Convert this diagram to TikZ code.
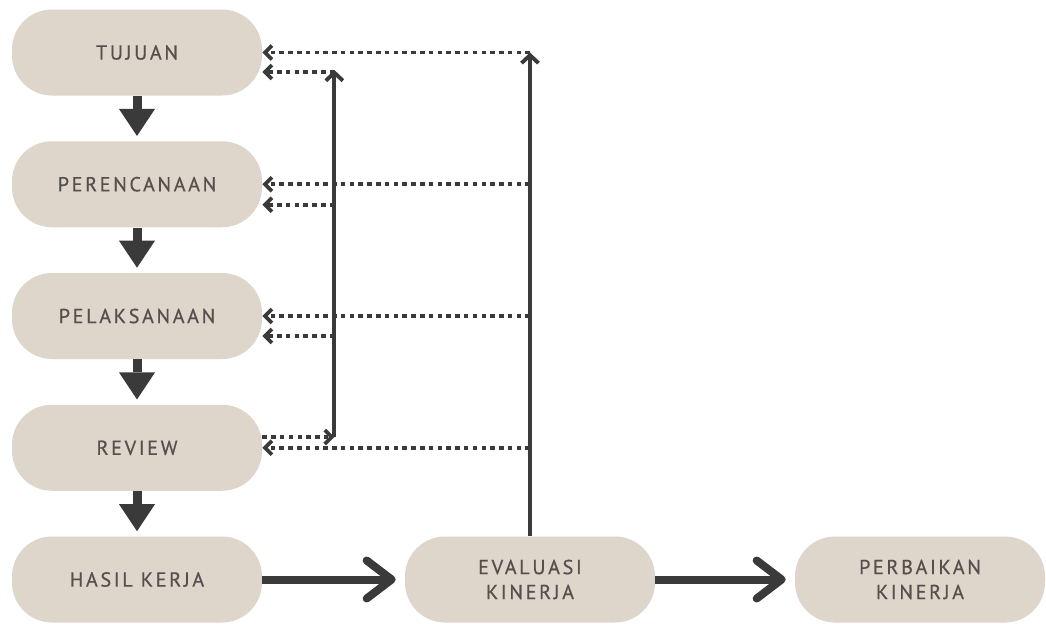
\documentclass[tikz,border=0pt]{standalone}
\usepackage{fontspec}
\setmainfont{PT Sans}
\newfontfamily\boxfont{PT Sans}[LetterSpace=13, FakeBold=0.5]
\usetikzlibrary{arrows.meta, positioning, calc}
\definecolor{sand}{RGB}{222,214,203}
\definecolor{ink}{RGB}{58,58,58}
\definecolor{label}{RGB}{84,80,76}
\tikzset{node distance = 2.635cm, on grid,
         box/.style = {fill = sand, rounded corners = 0.8cm,
                       minimum width = 5cm, minimum height = 1.72cm,
                       align = center, text = label,
                       font = \boxfont\fontsize{11.5}{14.2}\selectfont},
         down/.style = {draw, color = ink, line width = 0.18cm, shorten >= 1mm,
                        -{Triangle[length = 0.54cm, width = 0.72cm, line width = 0pt]}},
         ahead/.style = {draw, color = ink, line width = 0.16cm, shorten >= 1.8mm,
                         -{Straight Barb[round, length = 0.5cm, width = 0.76cm]}},
         dots/.style = {draw, color = ink, line width = 2.1pt,
                        dash pattern = on 2.6pt off 2.4pt,
                        -{Straight Barb[length = 0.14cm, width = 0.28cm]}},
         back/.style = {draw, color = ink, line width = 2.2pt,
                        -{Straight Barb[length = 0.16cm, width = 0.34cm]}}}

\begin{document}
\begin{tikzpicture}
        \useasboundingbox[fill = white] (0,0) rectangle (20.92,-12.46);

        \node[box] (tuj) at (2.74,-1.05)         {TUJUAN};
        \node[box] (ren) [below of = tuj]        {PERENCANAAN};
        \node[box] (pel) [below of = ren]        {PELAKSANAAN};
        \node[box] (rev) [below of = pel]        {REVIEW};
        \node[box] (has) [below of = rev]        {HASIL KERJA};
        \node[box] (eva) [right = 7.86cm of has] {EVALUASI\\KINERJA};
        \node[box] (per) [right = 7.8cm of eva]  {PERBAIKAN\\KINERJA};

        \coordinate (inner) at ([xshift = 1.44cm]rev.east);

        \path[down]  (tuj) edge (ren);
        \path[down]  (ren) edge (pel);
        \path[down]  (pel) edge (rev);
        \path[down]  (rev) edge (has);
        \path[ahead] (has) edge (eva);
        \path[ahead] (eva) edge (per);

        % evaluasi kinerja back to every step
        \draw[back] (eva) -- (eva |- tuj.east);
        \draw[dots] (eva |- tuj.east) -- (tuj.east);
        \draw[dots] (eva |- ren.east) -- (ren.east);
        \draw[dots] (eva |- pel.east) -- (pel.east);
        \draw[dots] (eva |- rev.east) -- (rev.east);

        % review back to the steps above
        \draw[dots] ([yshift = 2.15mm]rev.east) -- ([yshift = 2.15mm]inner);
        \draw[back] ([yshift = 2.15mm]inner) -- ($(inner |- tuj.east) + (0,-0.35)$);
        \draw[dots] ($(inner |- tuj.east) + (0,-0.39)$) -- ($(tuj.east) + (0,-0.39)$);
        \draw[dots] ($(inner |- ren.east) + (0,-0.41)$) -- ($(ren.east) + (0,-0.41)$);
        \draw[dots] ($(inner |- pel.east) + (0,-0.40)$) -- ($(pel.east) + (0,-0.40)$);
\end{tikzpicture}
\end{document}
